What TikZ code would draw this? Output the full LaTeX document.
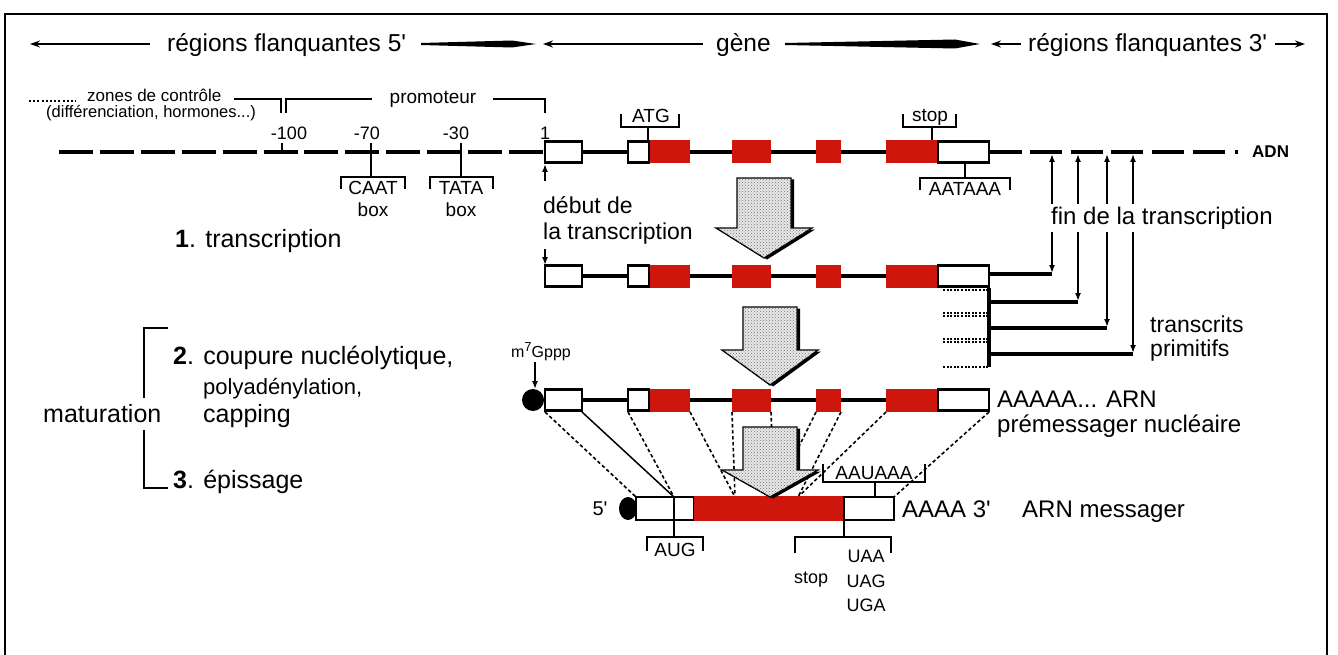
\documentclass[tikz,border=0pt]{standalone}
\usepackage{fontspec}
\setmainfont{Liberation Sans}
\usetikzlibrary{arrows.meta,patterns}
\definecolor{exred}{RGB}{205,22,12}
\newcommand\myfs[1]{\fontsize{#1}{#1}\selectfont}
\newcommand\qq{\textquotesingle}
\tikzset{
  txt/.style={inner sep=0pt, anchor=base},
  txtw/.style={inner sep=0pt, anchor=base west},
  lbl/.style={font=\myfs{#1}},
  big/.style={font=\myfs{#1}},
  dnaline/.style={line width=3.8pt},
  intron/.style={line width=3.6pt},
  boxw/.style={draw, fill=white, line width=2.4pt},
  conn/.style={line width=1.5pt},
  maplink/.style={line width=1.6pt, dash pattern=on 3.5pt off 2.5pt},
  arr/.style={-{Latex[length=8pt,width=6pt]}},
  darr/.style={{Latex[length=8pt,width=6pt]}-{Latex[length=8pt,width=6pt]}, line width=1.8pt},
  hdr/.style={line width=2.4pt},
  hdrtip/.style={{Stealth[length=10pt,width=7pt]}-},
  dotext/.style={line width=2.2pt, dash pattern=on 2pt off 1.6pt},
  blk/.style={draw=black, line width=1.3pt, fill=gray!18, postaction={pattern=crosshatch dots, pattern color=black!55}},
}
\newcommand\blockarrow[4]{% cx, ytop, yhead, ytip
  \fill[black] ({#1-27+3},{#2+1.5}) -- ({#1+27+3},{#2+1.5}) -- ({#1+27+3},{#3+1.5}) -- ({#1+48+3},{#3+1.5}) -- ({#1+3},{#4+1.5}) -- ({#1-48+3},{#3+1.5}) -- ({#1-27+3},{#3+1.5}) -- cycle;
  \draw[blk] ({#1-27},#2) -- ({#1+27},#2) -- ({#1+27},#3) -- ({#1+48},#3) -- (#1,#4) -- ({#1-48},#3) -- ({#1-27},#3) -- cycle;
}
\begin{document}
\begin{tikzpicture}[x=1pt,y=-1pt]
\useasboundingbox (0,0) rectangle (1338,655);
% frame
\draw[line width=1.8pt] (5,660) -- (5,14) -- (1327,14) -- (1327,660);

% ---------- header ----------
\draw[hdr,hdrtip] (30,44) -- (150,44);
\node[txtw, big=24.5] (h5) at (167,52) {régions flanquantes 5\qq};
\fill (421,43) -- (512,40.5) -- (536,44) -- (512,47.5) -- (421,45) -- cycle;
\draw[hdr,hdrtip] (543,44) -- (703,44);
\node[txtw, big=24.5] (hg) at (716,52) {gène};
\fill (785,43) -- (955,39.5) -- (980,44) -- (955,48.5) -- (785,45) -- cycle;
\draw[hdr,hdrtip] (991,44) -- (1021,44);
\node[txtw, big=24.5] (h3) at (1028,52) {régions flanquantes 3\qq};
\draw[hdr,-{Stealth[length=10pt,width=7pt]}] (1275,44) -- (1305,44);

% ---------- control / promoter labels ----------
\draw[line width=1.5pt, dash pattern=on 2pt off 2.2pt] (29,101) -- (76,101);
\node[txtw, lbl=17] (zc) at (87,102) {zones de contrôle};
\node[txtw, lbl=16.5] (dh) at (46,118) {(différenciation, hormones...)};
\draw[conn] (234,99) -- (281,99) -- (281,113);
\draw[conn] (286,113) -- (286,99) -- (372,99);
\node[txt, lbl=19] (pr) at (433,104) {promoteur};
\draw[conn] (493,99) -- (545,99) -- (545,113);
\node[txt, lbl=18] (n100) at (289,140) {-100};
\node[txt, lbl=18] (n70) at (367,140) {-70};
\node[txt, lbl=18] (n30) at (456,140) {-30};
\node[txt, lbl=18] (n1) at (545,140) {1};

% ---------- DNA line ----------
\draw[dnaline, dash pattern=on 34pt off 6.9pt] (59,152) -- (543,152);
\foreach \tx in {282,371,461} \draw[line width=2.6pt] (\tx,143) -- (\tx,152);
\draw[dnaline] (989,152) -- (1022,152);
\draw[dnaline, dash pattern=on 32pt off 8.7pt] (1030,152) -- (1225,152);
\draw[dnaline] (1235,152) -- (1238,152);
\node[txtw, font=\bfseries\myfs{17}] (adn) at (1252,158) {ADN};

% CAAT / TATA
\draw[conn] (371,152) -- (371,177);
\draw[conn] (341,189) -- (341,177) -- (405,177) -- (405,189);
\node[txt, lbl=19] (caat) at (373,195) {CAAT};
\node[txt, lbl=19] (box1) at (373,216) {box};
\draw[conn] (461,152) -- (461,177);
\draw[conn] (430,189) -- (430,177) -- (493,177) -- (493,189);
\node[txt, lbl=19] (tata) at (461,195) {TATA};
\node[txt, lbl=19] (box2) at (461,216) {box};

% ---------- gene rows ----------
\foreach \Y in {152,276,400}{
  \draw[intron] (582,\Y) -- (989,\Y);
  \draw[boxw] (545,{\Y-10.5}) rectangle (582,{\Y+10.5});
  \fill[exred] (649,{\Y-11.5}) rectangle (690,{\Y+11.5});
  \draw[boxw] (628,{\Y-10.5}) rectangle (649,{\Y+10.5});
  \fill[exred] (732,{\Y-11.5}) rectangle (771,{\Y+11.5});
  \fill[exred] (816,{\Y-11.5}) rectangle (841,{\Y+11.5});
  \fill[exred] (886,{\Y-11.5}) rectangle (938,{\Y+11.5});
  \draw[boxw] (938,{\Y-10.5}) rectangle (989,{\Y+10.5});
}

% ATG / stop / AATAAA on DNA
\draw[conn] (621,114) -- (621,127) -- (679,127) -- (679,114);
\draw[conn] (648,127) -- (648,140);
\node[txt, lbl=19] (atg) at (651,123) {ATG};
\draw[conn] (903,114) -- (903,127) -- (956,127) -- (956,114);
\draw[conn] (932,127) -- (932,140);
\node[txt, lbl=19] (stop1) at (930,122) {stop};
\draw[conn] (965,163) -- (965,178);
\draw[conn] (920,190) -- (920,178) -- (1010,178) -- (1010,190);
\node[txt, lbl=19] (aataaa) at (965,196) {AATAAA};

% début de la transcription
\draw[conn, arr] (545,181) -- (545,164);
\node[txtw, big=23] (deb1) at (543,214) {début de};
\node[txtw, big=23] (deb2) at (543,239) {la transcription};
\draw[conn, arr] (545,249) -- (545,265);

\node[txtw, big=25] (t1) at (175,247) {{\bfseries 1}. transcription};

% ---------- transcription ends ----------
\draw[intron] (989,274) -- (1052,274);
\draw[intron] (989,288) -- (989,367);
\foreach \yy in {290,313,316,339,342,367} \draw[dotext] (943,\yy) -- (988,\yy);
\draw[intron] (989,302) -- (1078,302);
\draw[intron] (989,328) -- (1107,328);
\draw[intron] (989,354) -- (1133,354);
\draw[darr] (1052,154) -- (1052,273);
\draw[darr] (1078,154) -- (1078,301);
\draw[darr] (1107,154) -- (1107,327);
\draw[darr] (1133,154) -- (1133,353);
\node[txtw, big=24, fill=white, inner ysep=3pt, inner xsep=0pt] (fin) at (1051,224) {fin de la transcription};
\node[txtw, big=23] (tr1) at (1150,332) {transcrits};
\node[txtw, big=23] (tr2) at (1150,356) {primitifs};

% block arrows 1 & 2
\blockarrow{764}{178}{228}{258}
\blockarrow{770}{307}{350}{385}

% ---------- maturation labels ----------
\draw[conn] (168,328) -- (144,328) -- (144,398);
\draw[conn] (144,430) -- (144,488) -- (168,488);
\node[txtw, big=25] (mat) at (43,422) {maturation};
\node[txtw, big=25] (s2) at (173,364) {{\bfseries 2}. coupure nucléolytique,};
\node[txtw, big=22] (s2b) at (203,394) {polyadénylation,};
\node[txtw, big=25] (s2c) at (203,422) {capping};
\node[txtw, big=25] (s3) at (173,488) {{\bfseries 3}. épissage};

% ---------- pre-mRNA ----------
\fill (533,400) circle (11);
\node[txt, lbl=16] (cap) at (541,357) {m\raisebox{6pt}{\myfs{13}7}Gppp};
\draw[conn, arr] (535,362) -- (535,389);
\node[txtw, big=24] (pm1) at (997,407) {AAAAA... ARN};
\node[txtw, big=24] (pm2) at (997,432) {prémessager nucléaire};

% mapping lines
\draw[maplink] (545,412) -- (636,497);
\draw[conn] (582,412) -- (674,497);
\draw[maplink] (628,412) -- (674,497);
\draw[maplink] (690,412) -- (735,497);
\draw[maplink] (732,412) -- (735,497);
\draw[maplink] (771,412) -- (774,497);
\draw[maplink] (816,412) -- (774,497);
\draw[maplink] (841,412) -- (798,497);
\draw[maplink] (886,412) -- (798,497);
\draw[maplink] (989,412) -- (894,497);

% ---------- mRNA ----------
\fill (628,508.5) ellipse (9 and 11.5);
\draw[boxw] (636,497) rectangle (694,520);
\fill[exred] (694,496) rectangle (844,521);
\draw[boxw] (844,497) rectangle (894,520);
\draw[line width=2.2pt] (674,497) -- (674,520);
\node[txt, big=20] (m5) at (600,515) {5\qq};
\node[txtw, big=24] (m3) at (902,517) {AAAA 3\qq};
\node[txtw, big=24] (mm) at (1022,517) {ARN messager};

\blockarrow{770}{427}{470}{497}

\draw[conn] (823,464) -- (823,482) -- (925,482) -- (925,464);
\draw[conn] (875,482) -- (875,497);
\node[txt, lbl=19] (aauaaa) at (874,479) {AAUAAA};
\draw[conn] (674,520) -- (674,537);
\draw[conn] (647,551) -- (647,537) -- (703,537) -- (703,551);
\node[txt, lbl=19] (aug) at (675,556) {AUG};
\draw[conn] (844,520) -- (844,537);
\draw[conn] (795,553) -- (795,537) -- (891,537) -- (891,553);
\node[txt, lbl=18] (uaa) at (866,562) {UAA};
\node[txt, lbl=18] (uag) at (866,587) {UAG};
\node[txt, lbl=18] (uga) at (866,611) {UGA};
\node[txt, lbl=18] (stop2) at (811,583) {stop};
\end{tikzpicture}
\end{document}
